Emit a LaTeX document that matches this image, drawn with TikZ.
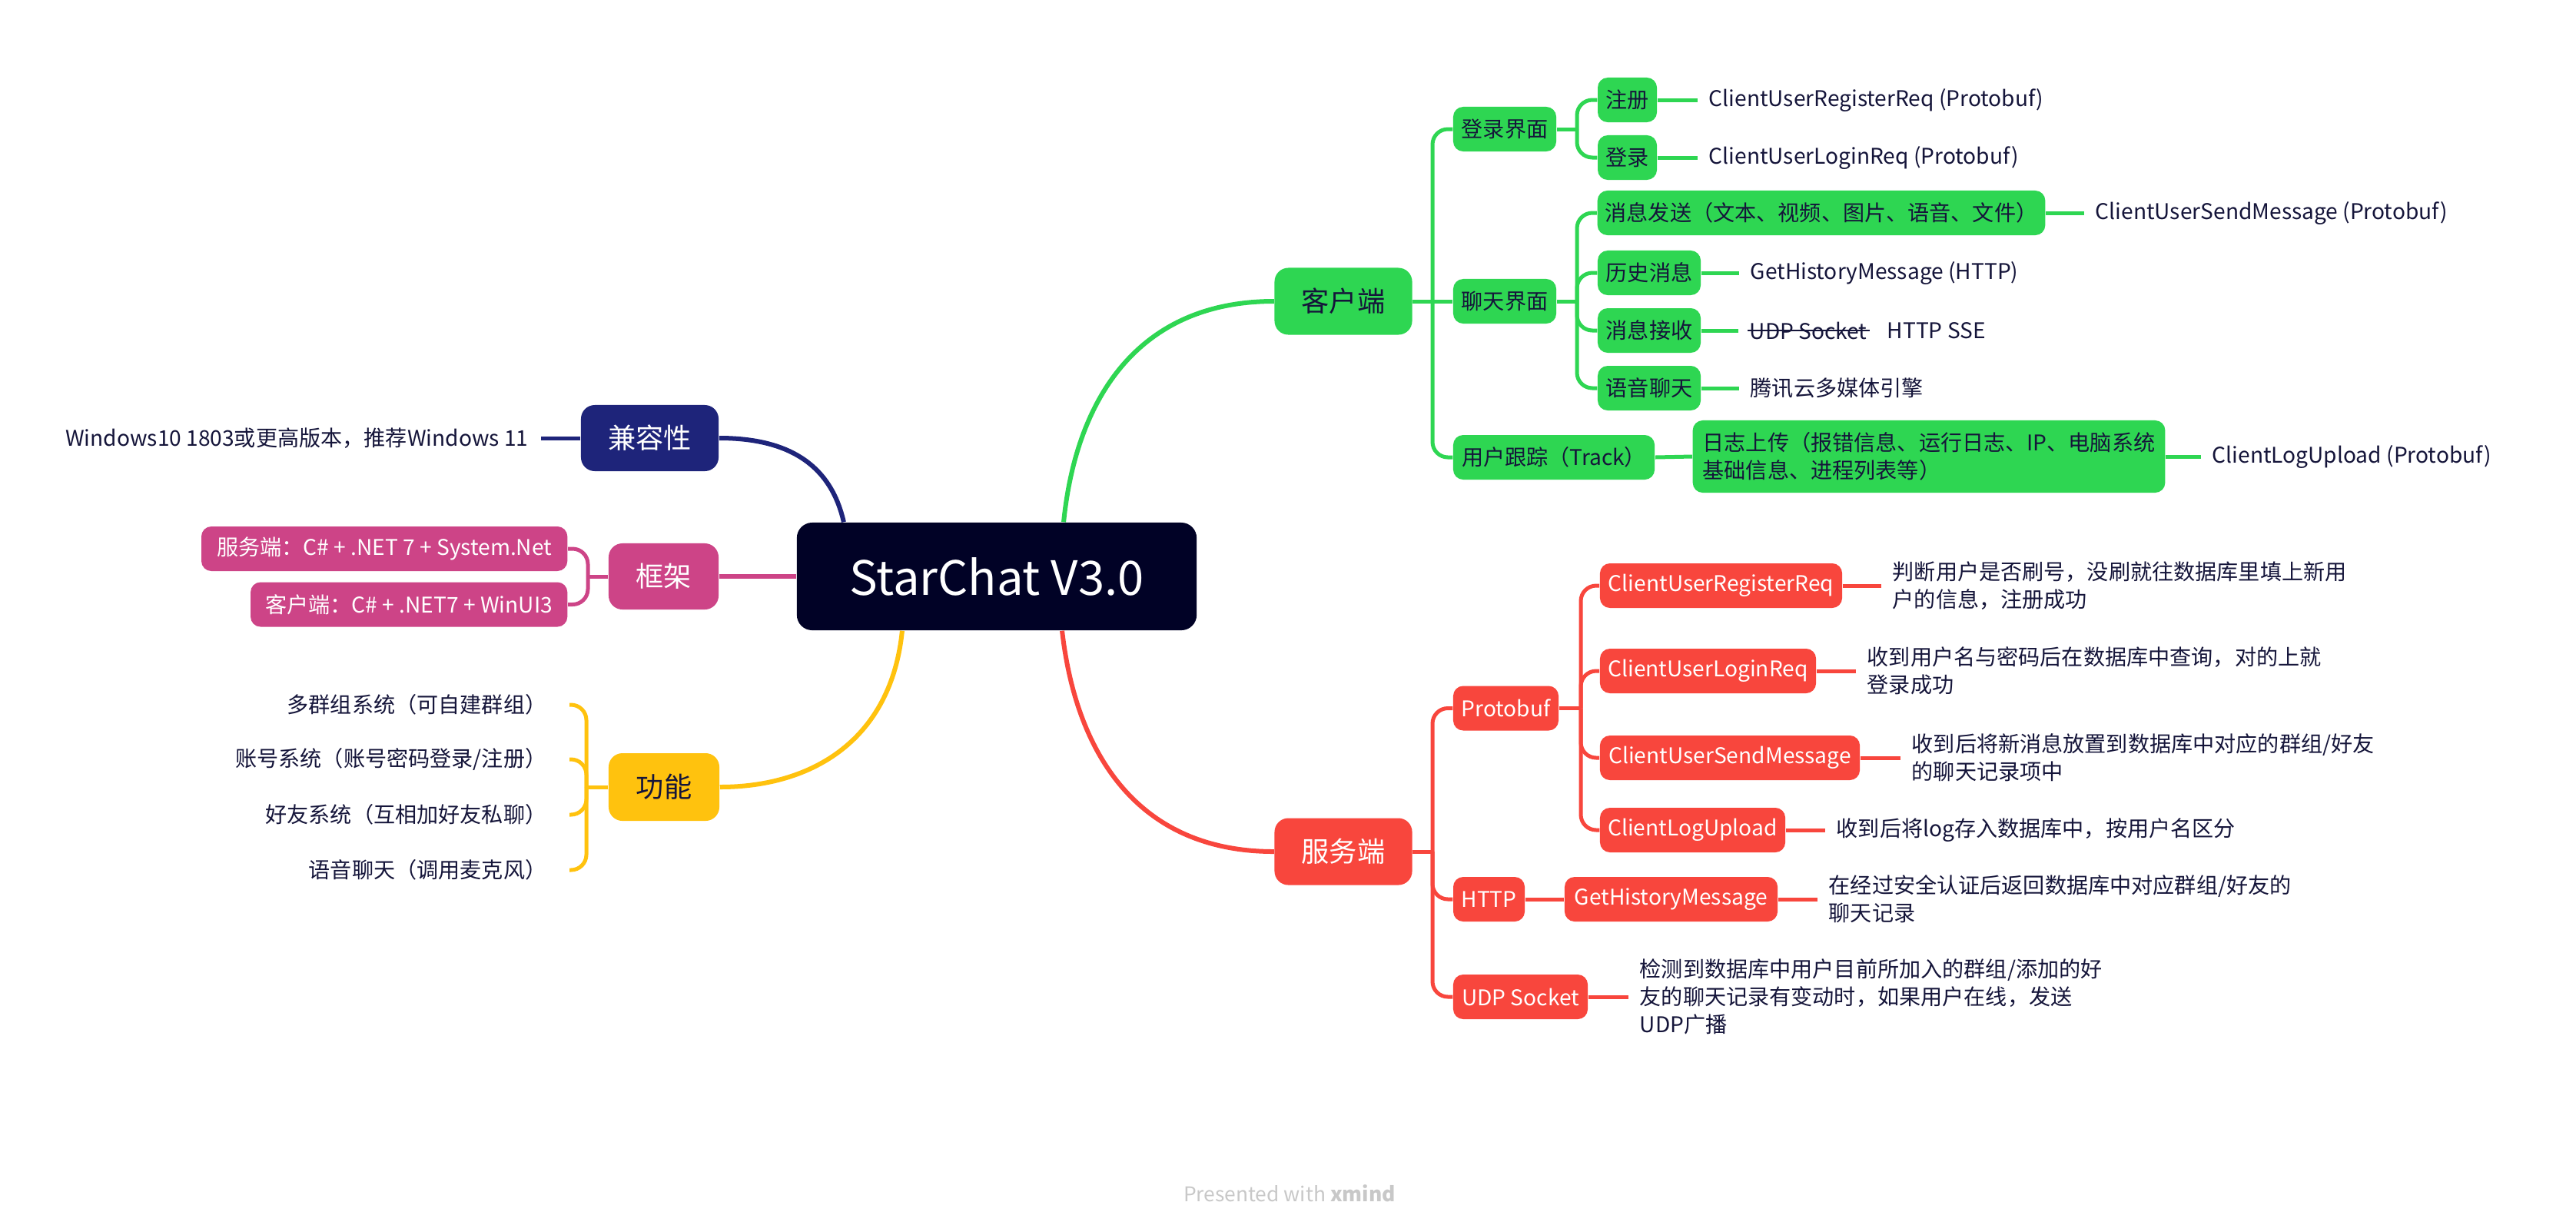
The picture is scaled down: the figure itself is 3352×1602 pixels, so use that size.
\documentclass[tikz,border=0pt]{standalone}
\usepackage{fontspec}
\setmainfont{Noto Sans CJK SC}
\usetikzlibrary{calc}
\definecolor{cgreen}{HTML}{2ED652}
\definecolor{cred}{HTML}{F8463D}
\definecolor{cnavy}{HTML}{1E247A}
\definecolor{cpink}{HTML}{CD4487}
\definecolor{cyellow}{HTML}{FFC20E}
\definecolor{croot}{HTML}{010226}
\definecolor{ctext}{HTML}{15153A}
\definecolor{cfoot}{HTML}{C8C8C8}
\newcommand{\fsmall}{\fontsize{8pt}{10.24pt}\selectfont}
\newcommand{\flarge}{\fontsize{10.3pt}{12.5pt}\selectfont}
\newcommand{\froot}{\fontsize{17.5pt}{21pt}\selectfont}
\newcommand{\ffoot}{\fontsize{7.5pt}{9pt}\selectfont}
\tikzset{
  bigbox/.style={rounded corners=0.18cm, minimum height=0.87cm, inner xsep=0.2cm, inner ysep=0pt, font=\flarge, align=center},
  smbox/.style={rounded corners=0.13cm, minimum height=0.58cm, inner xsep=0.1cm, inner ysep=0pt, font=\fsmall, align=center},
  gbig/.style={bigbox, fill=cgreen, text=ctext},
  gsm/.style={smbox, fill=cgreen, text=ctext},
  rbig/.style={bigbox, fill=cred, text=white},
  rsm/.style={smbox, fill=cred, text=white},
  leaf/.style={anchor=west, inner xsep=0.14cm, inner ysep=0pt, font=\fsmall, text=ctext, align=left},
  leafl/.style={anchor=east, inner xsep=0.16cm, inner ysep=0pt, font=\fsmall, text=ctext, align=right},
  gl/.style={draw=cgreen, line width=0.05cm},
  rl/.style={draw=cred, line width=0.05cm},
  pl/.style={draw=cpink, line width=0.05cm},
  yl/.style={draw=cyellow, line width=0.05cm},
  nl/.style={draw=cnavy, line width=0.05cm},
  rootline/.style={line width=0.06cm},
  rc/.style={rounded corners=0.2cm}
}
\begin{document}
\begin{tikzpicture}[x=0.01cm, y=-0.01cm]
\useasboundingbox[fill=white] (0,0) rectangle (3352,1602);

% ---------- root ----------
\node[fill=croot, text=white, rounded corners=0.2cm, minimum width=5.2cm, minimum height=1.4cm, font=\froot] (root) at (1297,750) {StarChat V3.0};

% ---------- client (green) ----------
\node[gbig, minimum width=1.79cm] (kehu) at (1748,392) {客户端};
\node[gsm, minimum width=1.34cm] (dljm) at (1958,168) {登录界面};
\node[gsm, minimum width=1.34cm] (ltjm) at (1958,392) {聊天界面};
\node[gsm, minimum width=2.62cm] (yhgz) at (2022,595) {用户跟踪（Track）};
\node[gsm, minimum width=0.77cm] (zc) at (2117.5,130) {注册};
\node[gsm, minimum width=0.77cm] (dl) at (2117.5,205) {登录};
\node[gsm, minimum width=5.82cm] (xxfs) at (2370,277) {消息发送（文本、视频、图片、语音、文件）};
\node[gsm, minimum width=1.34cm] (lsxx) at (2146,355) {历史消息};
\node[gsm, minimum width=1.34cm] (xxjs) at (2146,430) {消息接收};
\node[gsm, minimum width=1.34cm] (yylt) at (2146,505) {语音聊天};
\node[gsm, minimum width=6.06cm, minimum height=0.94cm, align=left, inner xsep=0.13cm] (rzsc) at (2510,594) {日志上传（报错信息、运行日志、IP、电脑系统\\基础信息、进程列表等）};

\node[leaf] (zcT) at (2209,130) {ClientUserRegisterReq (Protobuf)};
\node[leaf] (dlT) at (2209,205) {ClientUserLoginReq (Protobuf)};
\node[leaf] (xxfsT) at (2712,277) {ClientUserSendMessage (Protobuf)};
\node[leaf] (lsxxT) at (2263,355) {GetHistoryMessage (HTTP)};
\node[leaf, inner xsep=0pt] (xxjsU) at (2276,430) {UDP Socket};
\node[leaf, inner xsep=0pt] (xxjsH) at (2455,430) {HTTP SSE};
\node[leaf] (yyltT) at (2263,505) {腾讯云多媒体引擎};
\node[leaf] (rzscT) at (2864,594) {ClientLogUpload (Protobuf)};

% ---------- server (red) ----------
\node[rbig, minimum width=1.79cm] (fwd) at (1748,1108) {服务端};
\node[rsm, minimum width=1.37cm] (pb) at (1959.5,921.5) {Protobuf};
\node[rsm, minimum width=0.93cm] (http) at (1937.5,1170) {HTTP};
\node[rsm, minimum width=1.75cm] (udp) at (1978.5,1297) {UDP Socket};
\node[rsm, minimum width=3.15cm] (reg) at (2239.5,762) {ClientUserRegisterReq};
\node[rsm, minimum width=2.81cm] (login) at (2222.5,873) {ClientUserLoginReq};
\node[rsm, minimum width=3.38cm] (send) at (2251,986) {ClientUserSendMessage};
\node[rsm, minimum width=2.41cm] (logu) at (2202.5,1080) {ClientLogUpload};
\node[rsm, minimum width=2.77cm] (ghm) at (2174.5,1170) {GetHistoryMessage};

\node[leaf] (regT) at (2448,762) {判断用户是否刷号，没刷就往数据库里填上新用\\户的信息，注册成功};
\node[leaf] (loginT) at (2415,873) {收到用户名与密码后在数据库中查询，对的上就\\登录成功};
\node[leaf] (sendT) at (2473,986) {收到后将新消息放置到数据库中对应的群组/好友\\的聊天记录项中};
\node[leaf] (loguT) at (2375,1080) {收到后将log存入数据库中，按用户名区分};
\node[leaf] (ghmT) at (2365,1170) {在经过安全认证后返回数据库中对应群组/好友的\\聊天记录};
\node[leaf] (udpT) at (2119,1297) {检测到数据库中用户目前所加入的群组/添加的好\\友的聊天记录有变动时，如果用户在线，发送\\UDP广播};

% ---------- left side ----------
\node[bigbox, fill=cnavy, text=white, minimum width=1.79cm, minimum height=0.86cm] (jrx) at (845.5,570) {兼容性};
\node[leafl] (win) at (704,570) {Windows10 1803或更高版本，推荐Windows 11};

\node[bigbox, fill=cpink, text=white, minimum width=1.43cm, minimum height=0.86cm] (kj) at (863.5,750) {框架};
\node[smbox, fill=cpink, text=white, anchor=east, minimum width=4.76cm] (kjs) at (739,714) {服务端：C\# + .NET 7 + System.Net};
\node[smbox, fill=cpink, text=white, anchor=east, minimum width=4.12cm] (kjc) at (739,786.5) {客户端：C\# + .NET7 + WinUI3};

\node[bigbox, fill=cyellow, text=ctext, minimum width=1.44cm, minimum height=0.88cm] (gn) at (864,1024) {功能};
\node[leafl, inner xsep=0.29cm] (gn1) at (741,917) {多群组系统（可自建群组）};
\node[leafl, inner xsep=0.29cm] (gn2) at (741,988) {账号系统（账号密码登录/注册）};
\node[leafl, inner xsep=0.29cm] (gn3) at (741,1060) {好友系统（互相加好友私聊）};
\node[leafl, inner xsep=0.29cm] (gn4) at (741,1132) {语音聊天（调用麦克风）};

% ---------- footer ----------
\node[text=cfoot, font=\ffoot, inner sep=0pt] (foot) at (1678,1553) {Presented with \textbf{xmind}};

% ---------- root connectors ----------
\draw[cgreen, rootline] ([xshift=0.87cm]root.north) .. controls (1400,520) and (1480,392) .. (kehu.west);
\draw[cred, rootline] ([xshift=0.85cm]root.south) .. controls (1400,980) and (1480,1108) .. (fwd.west);
\draw[cnavy, rootline] ([xshift=-1.99cm]root.north) .. controls (1080,600) and (1020,570) .. (jrx.east);
\draw[cyellow, rootline] ([xshift=-1.23cm]root.south) .. controls (1160,960) and (1060,1024) .. (gn.east);
\draw[cpink, rootline] (root.west) -- (kj.east);

% ---------- client connectors ----------
\coordinate (sk) at (1864,392);
\draw[gl] (kehu.east) -- (sk);
\draw[gl, rc] (sk) |- (dljm.west);
\draw[gl] (sk) -- (ltjm.west);
\draw[gl, rc] (sk) |- (yhgz.west);

\coordinate (sd) at (2052,168);
\draw[gl] (dljm.east) -- (sd);
\draw[gl, rc] (sd) |- (zc.west);
\draw[gl, rc] (sd) |- (dl.west);

\coordinate (sl) at (2052,392);
\draw[gl] (ltjm.east) -- (sl);
\draw[gl, rc] (sl) |- (xxfs.west);
\draw[gl, rc] (sl) |- (lsxx.west);
\draw[gl, rc] (sl) |- (xxjs.west);
\draw[gl, rc] (sl) |- (yylt.west);

\draw[gl] (yhgz.east) -- (rzsc.west);
\draw[gl] (zc.east) -- (zcT.west);
\draw[gl] (dl.east) -- (dlT.west);
\draw[gl] (xxfs.east) -- (xxfsT.west);
\draw[gl] (lsxx.east) -- (lsxxT.west);
\draw[gl] (xxjs.east) -- ([xshift=-0.14cm]xxjsU.west);
\draw[ctext, line width=0.025cm] ([xshift=-0.02cm]xxjsU.west) -- ([xshift=0.03cm]xxjsU.east);
\draw[gl] (yylt.east) -- (yyltT.west);
\draw[gl] (rzsc.east) -- (rzscT.west);

% ---------- server connectors ----------
\coordinate (sf) at (1864,1108);
\draw[rl] (fwd.east) -- (sf);
\draw[rl, rc] (sf) |- (pb.west);
\draw[rl, rc] (sf) |- (http.west);
\draw[rl, rc] (sf) |- (udp.west);

\coordinate (sp) at (2057,921.5);
\draw[rl] (pb.east) -- (sp);
\draw[rl, rc] (sp) |- (reg.west);
\draw[rl, rc] (sp) |- (login.west);
\draw[rl, rc] (sp) |- (send.west);
\draw[rl, rc] (sp) |- (logu.west);

\draw[rl] (http.east) -- (ghm.west);
\draw[rl] (reg.east) -- (regT.west);
\draw[rl] (login.east) -- (loginT.west);
\draw[rl] (send.east) -- (sendT.west);
\draw[rl] (logu.east) -- (loguT.west);
\draw[rl] (ghm.east) -- (ghmT.west);
\draw[rl] (udp.east) -- (udpT.west);

% ---------- left connectors ----------
\draw[nl] (jrx.west) -- (win.east);

\coordinate (skj) at (765,750);
\draw[pl] (kj.west) -- (skj);
\draw[pl, rc] (skj) |- (kjs.east);
\draw[pl, rc] (skj) |- (kjc.east);

\coordinate (sg) at (763,1024);
\draw[yl] (gn.west) -- (sg);
\draw[yl, rc] (sg) |- (gn1.east);
\draw[yl, rc] (sg) |- (gn2.east);
\draw[yl, rc] (sg) |- (gn3.east);
\draw[yl, rc] (sg) |- (gn4.east);
\end{tikzpicture}
\end{document}
